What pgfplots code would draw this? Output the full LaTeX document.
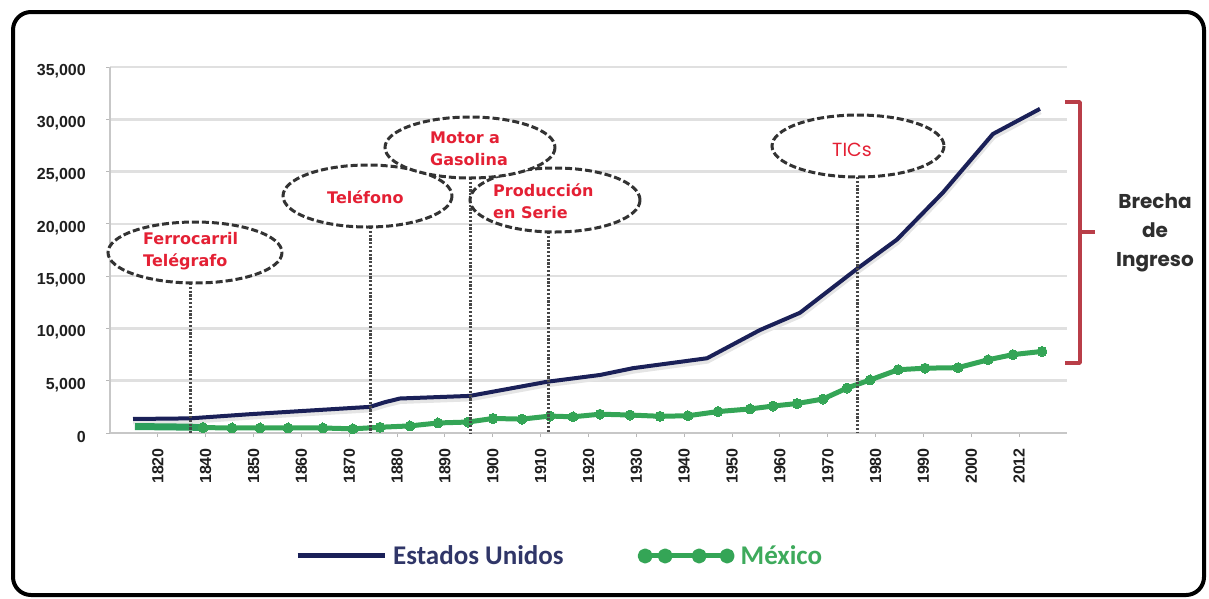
\documentclass[border=0pt]{standalone}
\usepackage{fontspec}
\setmainfont{Liberation Sans}
\newfontfamily\annfont{DejaVu Sans}
\newfontfamily\legfont{Carlito}
\newfontfamily\gothic{Poppins}
\usepackage{pgfplots}
\usepackage{pgfplotstable}
\pgfplotsset{compat=1.18}
\definecolor{annred}{RGB}{228,32,52}
\definecolor{usnavy}{RGB}{26,32,88}
\definecolor{ustext}{RGB}{48,54,104}
\definecolor{mxgreen}{RGB}{52,165,86}
\definecolor{mxtext}{RGB}{62,170,92}
\definecolor{brack}{RGB}{185,62,72}
\definecolor{gridc}{RGB}{224,224,224}

% x = category position (0 = 1820 label, 1 = 1840, ..., 17 = 2000, 18 = 2012)
\pgfplotstableread{
x y
-0.519 1340
0.672 1400
1.926 1800
3.180 2150
4.433 2500
4.747 2950
5.060 3300
6.523 3550
8.133 4900
9.240 5550
9.930 6200
11.477 7150
12.584 9850
13.420 11500
14.611 15700
15.447 18500
16.408 23000
17.453 28600
18.435 31000
}\ustable

\pgfplotstableread{
x y
-0.478 620
0.672 560
0.944 520
}\mxband

\pgfplotstableread{
x y
0.944 520
1.550 480
2.135 480
2.720 480
3.451 480
4.078 400
4.642 550
5.269 680
5.854 960
6.481 1050
7.004 1390
7.610 1330
8.195 1620
8.676 1550
9.240 1800
9.867 1720
10.494 1600
11.079 1650
11.706 2050
12.375 2300
12.856 2580
13.358 2820
13.901 3250
14.402 4300
14.883 5070
15.468 6050
16.032 6200
16.722 6250
17.349 7000
17.871 7500
18.477 7800
}\mxtable

\begin{document}
\begin{tikzpicture}
\path[use as bounding box] (0pt,0pt) rectangle (1209pt,-598pt);
\begin{axis}[
  scale only axis,
  width=957pt, height=366pt,
  at={(110pt,-433pt)}, anchor=south west,
  xmin=-1, xmax=19, ymin=0, ymax=35000,
  scaled y ticks=false,
  axis x line*=bottom, axis y line*=left,
  axis line style={-, draw=black!22, line width=2pt},
  xtick={0,...,18},
  xticklabels={1820,1840,1850,1860,1870,1880,1890,1900,1910,1920,1930,1940,1950,1960,1970,1980,1990,2000,2012},
  ytick={0,5000,10000,15000,20000,25000,30000,35000},
  yticklabels={0,{5,000},{10,000},{15,000},{20,000},{25,000},{30,000},{35,000}},
  ymajorgrids,
  grid style={draw=gridc, line width=2.5pt},
  tick align=outside, major tick length=4pt,
  tick style={draw=black!28, line width=1pt},
  xticklabel style={rotate=90, anchor=east, inner sep=0pt, text=black!88,
    font=\bfseries\fontsize{16}{18}\selectfont},
  yticklabel style={anchor=east, inner sep=0pt, text=black!88, yshift=-4pt,
    font=\bfseries\fontsize{16}{18}\selectfont},
  xticklabel shift=11pt,
  yticklabel shift=20pt,
  clip=false,
  legend columns=2,
  legend cell align=left,
  legend style={at={(0.1933,-0.336)}, anchor=west, draw=none, fill=none,
    inner sep=0pt,
    font=\legfont\bfseries\fontsize{27}{30}\selectfont,
    /tikz/every odd column/.append style={column sep=4pt},
    /tikz/every even column/.append style={column sep=72pt}},
]
\addplot[line width=7pt, black!10, yshift=-2pt, forget plot] table[x=x,y=y] {\ustable};
\addplot[line width=7pt, mxgreen!85!teal, forget plot] table[x=x,y=y] {\mxband};
\addplot[line width=4pt, usnavy, line join=round,
  legend image code/.code={\draw[line width=5pt, usnavy] (0pt,0pt) -- (87pt,0pt);}]
  table[x=x,y=y] {\ustable};
\addlegendentry{\textcolor{ustext}{Estados Unidos}}
\addplot[line width=5pt, mxgreen, line join=round, mark=*, mark size=5pt,
  mark options={fill=mxgreen, draw=mxgreen, line width=0pt},
  legend image code/.code={
    \draw[line width=5pt, mxgreen] (0pt,0pt) -- (88pt,0pt);
    \foreach \p in {3,23,57,85} {\fill[mxgreen] (\p pt,0pt) circle (5pt);}
  }]
  table[x=x,y=y] {\mxtable};
\addlegendentry{\textcolor{mxtext}{México}}
\end{axis}

\begin{scope}[x=1pt, y=-1pt]
  % dotted event lines
  \foreach \xx/\yy in {190/283, 370/227, 470/178, 548/232, 857/177} {
    \draw[black!72, line width=3pt, dash pattern=on 2.2pt off 1.6pt] (\xx,\yy) -- (\xx,433);
  }
  % dashed ellipses
  \tikzset{ev/.style={draw=black!80, fill=white, line width=3pt, dash pattern=on 7pt off 3pt}}
  \path[ev] (195,252.5) ellipse [x radius=87, y radius=30.5];
  \path[ev] (367.5,196) ellipse [x radius=84.5, y radius=31];
  \path[ev] (555,200) ellipse [x radius=85, y radius=32];
  \path[ev] (470,147.5) ellipse [x radius=85, y radius=30.5];
  \path[ev] (858,146) ellipse [x radius=86, y radius=31];
  % labels
  \tikzset{evt/.style={text=annred, font=\annfont\bfseries\fontsize{16}{22}\selectfont, align=left, inner sep=0pt, anchor=west}}
  \node[evt] at (143,251) {Ferrocarril\\Telégrafo};
  \node[evt] at (327,197) {Teléfono};
  \node[evt] at (430,149) {Motor a\\Gasolina};
  \node[evt] at (493,201.5) {Producción\\en Serie};
  \node[text=annred, font=\gothic\fontsize{19}{22}\selectfont, inner sep=0pt] at (852,150) {TICs};
  % bracket
  \draw[brack, line width=3.5pt, line join=round] (1065,102) -- (1080,102) -- (1080,363) -- (1065,363);
  \draw[brack, line width=3.5pt] (1080,232) -- (1095,232);
  \node[text=black!82, font=\gothic\bfseries\fontsize{20}{29}\selectfont, align=center, inner sep=0pt] at (1155,233) {Brecha\\de\\Ingreso};
  % frame
  \draw[line width=4pt, rounded corners=18pt] (13,12) rectangle (1204,595);
\end{scope}
\end{tikzpicture}
\end{document}
